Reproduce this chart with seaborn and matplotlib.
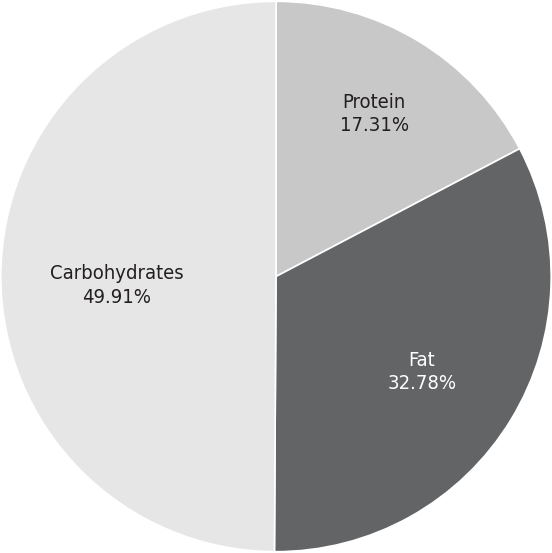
import matplotlib
matplotlib.use("Agg")
import matplotlib.pyplot as plt
import seaborn as sns
import numpy as np
from matplotlib import font_manager as fm

categories = ["Protein", "Fat", "Carbohydrates"]
values = [17.31, 32.78, 49.91]
colors = ["#c8c8c8", "#636466", "#e6e6e6"]
text_colors = ["#231f20", "#ffffff", "#231f20"]
label_dist = [0.69, 0.62, 0.58]
label_dy = [0.0, -0.025, -0.035]

sns.set_theme(style="white")
plt.rcParams['font.family'] = ['DejaVu Sans']

narrow = [f for f in fm.fontManager.ttflist if 'ondensed' in f.fname or 'Narrow' in f.fname]
fp = None
for f in narrow:
    if 'Bold' not in f.fname and 'Oblique' not in f.fname and 'Italic' not in f.fname:
        fp = fm.FontProperties(fname=f.fname)
        break
if fp is None:
    fp = fm.FontProperties(family='DejaVu Sans', stretch='condensed')

fig = plt.figure(figsize=(5.52, 5.53), dpi=100)
ax = fig.add_axes([0, 0, 1, 1])
wedges, _ = ax.pie(values, colors=colors, startangle=90, counterclock=False,
                   wedgeprops=dict(edgecolor="white", linewidth=1.2))
for w, name, v, tc, d, dy in zip(wedges, categories, values, text_colors, label_dist, label_dy):
    ang = np.deg2rad((w.theta1 + w.theta2) / 2)
    t = ax.text(d * np.cos(ang), d * np.sin(ang) + dy, f"{name}\n{v:.2f}%", ha="center", va="center",
                color=tc, linespacing=1.3)
    t.set_fontproperties(fp)
    t.set_fontsize(14.5)
ax.set_xlim(-1.003, 1.003)
ax.set_ylim(-1.003, 1.003)
ax.set_aspect("equal")
ax.axis("off")
fig.savefig("out.png", dpi=100, facecolor="white")
